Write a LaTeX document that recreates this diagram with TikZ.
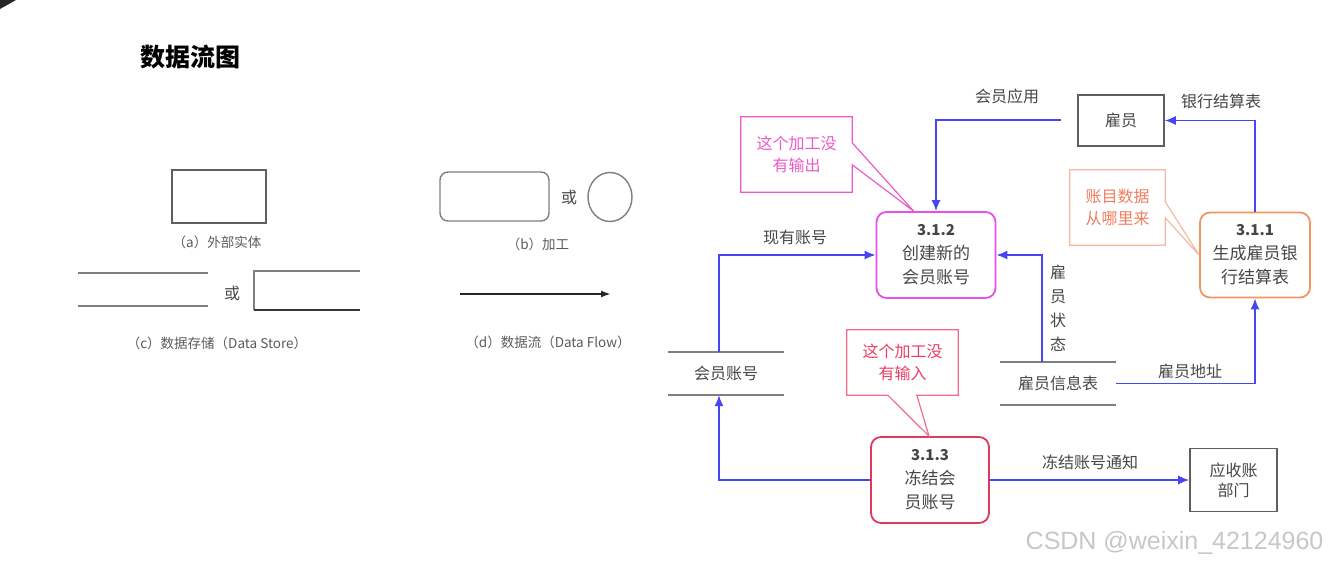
\documentclass[tikz,border=0pt]{standalone}
\usepackage{fontspec}
\setmainfont{Noto Sans CJK SC}
\newfontfamily\wmfont{Liberation Sans}
\usetikzlibrary{arrows,arrows.meta,positioning,calc,shapes.geometric}

\definecolor{flowblue}{RGB}{70,70,245}
\definecolor{boxgray}{RGB}{95,95,95}
\definecolor{textgray}{RGB}{70,70,70}
\definecolor{capgray}{RGB}{90,90,90}
\definecolor{pmagenta}{RGB}{230,80,230}
\definecolor{nmagenta}{RGB}{235,90,200}
\definecolor{pred}{RGB}{220,60,90}
\definecolor{nred}{RGB}{240,110,135}
\definecolor{tred}{RGB}{235,60,100}
\definecolor{porange}{RGB}{240,150,95}
\definecolor{norange}{RGB}{245,185,165}
\definecolor{torange}{RGB}{240,125,95}
\newcommand{\procnum}[1]{{\fontsize{15}{24}\selectfont\bfseries #1}}

\begin{document}
\begin{tikzpicture}[
      x=1pt,y=-1pt,
      >={Latex[length=11pt,width=9pt]},
      entity/.style={draw=boxgray,line width=1.6,minimum width=86,minimum height=51,inner sep=0,
        text=textgray,font=\fontsize{16}{20}\selectfont,align=center},
      proc/.style={draw,line width=1.8,rounded corners=10,minimum width=118,minimum height=86,inner sep=0,
        text=textgray,font=\fontsize{17}{24}\selectfont,align=center},
      store/.style={minimum width=116,minimum height=43,inner sep=0,
        text=textgray,font=\fontsize{16}{20}\selectfont},
      storeline/.style={draw=boxgray!80,line width=1.8},
      flow/.style={draw=flowblue,line width=1.4,->},
      lbl/.style={text=textgray,font=\fontsize{16}{20}\selectfont,inner sep=0,align=center},
      captxt/.style={text=capgray,font=\fontsize{13.5}{16}\selectfont,inner sep=0},
      note/.style={minimum width=111,minimum height=75,inner sep=0,align=center,
        font=\fontsize{16}{22}\selectfont}
    ]
    \useasboundingbox (0,0) rectangle (1330,565);
    \fill[black!85] (0,0) -- (16,0) -- (0,9) -- cycle;

    % legend
    \node[font=\fontsize{25}{28}\selectfont\bfseries] (title) at (190,57) {数据流图};
    \begin{scope}[every node/.style={captxt}]
      \node (capa) at (217,242) {（a）外部实体};
      \node (capb) at (538,244) {（b）加工};
      \node (capc) at (217,343) {（c）数据存储（Data Store）};
      \node (capd) at (548,342) {（d）数据流（Data Flow）};
    \end{scope}
    \node[entity,minimum width=94,minimum height=53] (lega) at (219,196.5) {};
    \node[draw=boxgray!80,line width=1.4,rounded corners=8,minimum width=109,minimum height=49] (legb) at (494.5,196.5) {};
    \node[draw=boxgray!80,line width=1.4,ellipse,minimum width=44,minimum height=49,inner sep=0] (legb2) at (610,197) {};
    \node[lbl] (orb) at (569,197) {或};
    \node[minimum width=130,minimum height=33,inner sep=0] (legc1) at (143,289.5) {};
    \node[minimum width=106,minimum height=39,inner sep=0] (legc2) at (307,290.5) {};
    \node[lbl] (orc) at (232,293) {或};
    \draw[storeline] (legc1.north west) -- (legc1.north east);
    \draw[storeline] (legc1.south west) -- (legc1.south east);
    \draw[storeline] (legc2.north east) -- (legc2.north west) -- (legc2.south west);
    \draw[line width=2.4,black!80] (legc2.south west) -- (legc2.south east);
    \coordinate (d1) at (460,294);
    \coordinate (d2) at (611,294);
    \draw[-{Latex[length=10pt,width=7pt]},line width=1.8,black!85] (d1) -- (d2);

    % diagram
    \node[entity] (yuangong) at (1121,120.5) {雇员};
    \node[entity,minimum width=87,minimum height=63,align=center] (yszb) at (1233.5,480) {应收账\\部门};
    \node[proc,draw=pmagenta,minimum width=119] (p312) at (936,255) {\procnum{3.1.2}\\创建新的\\会员账号};
    \node[proc,draw=porange,minimum width=110,minimum height=85] (p311) at (1255,255) {\procnum{3.1.1}\\生成雇员银\\行结算表};
    \node[proc,draw=pred] (p313) at (930,480) {\procnum{3.1.3}\\冻结会\\员账号};
    \node[store] (hyzh) at (726,373.5) {会员账号};
    \node[store] (ygxx) at (1058,383.5) {雇员信息表};
    \foreach \s in {hyzh,ygxx} {
      \draw[storeline] (\s.north west) -- (\s.north east);
      \draw[storeline] (\s.south west) -- (\s.south east);
    }

    \coordinate (hyyy) at (1061,120);
    \draw[flow] (hyyy) -| (p312.north);
    \draw[flow] ($(hyzh.north)+(-7,0)$) |- (p312.west);
    \draw[flow] (p313.west) -| ($(hyzh.south)+(-7,0)$);
    \draw[flow] ($(ygxx.north)+(-16,0)$) |- (p312.east);
    \draw[flow] (ygxx.east) -| (p311.south);
    \draw[flow] (p311.north) |- (yuangong.east);
    \path (p313) edge[flow] (yszb);

    \begin{scope}[every node/.style={lbl}]
      \node (l1) at (1007,96) {会员应用};
      \node (l2) at (1221,101) {银行结算表};
      \node (l3) at (795,237) {现有账号};
      \node[font=\fontsize{16}{24}\selectfont] (l4) at (1058,308) {雇\\员\\状\\态};
      \node (l5) at (1190,371) {雇员地址};
      \node (l6) at (1090,462) {冻结账号通知};
    \end{scope}

    % notes
    \node[note,text=nmagenta] (note1) at (796.5,154.5) {这个加工没\\有输出};
    \draw[nmagenta,line width=1.2] (note1.north west) -- (note1.north east)
      -- ($(note1.north east)+(0,26)$) -- ($(p312.north west)+(38,0)$)
      -- ($(note1.north east)+(0,48)$) -- (note1.south east) -- (note1.south west) -- cycle;
    \node[note,text=tred,minimum height=65] (note3) at (902.5,362.5) {这个加工没\\有输入};
    \draw[nred,line width=1.2] (note3.north west) -- (note3.north east) -- (note3.south east)
      -- ($(note3.south west)+(70,0)$) -- ($(p313.north)+(-1,0)$)
      -- ($(note3.south west)+(41,0)$) -- (note3.south west) -- cycle;
    \node[note,text=torange,minimum width=95] (note2) at (1117.5,207.5) {账目数据\\从哪里来};
    \draw[norange,line width=1.2] (note2.north west) -- (note2.north east)
      -- ($(note2.north east)+(0,32)$) -- (p311.west)
      -- ($(note2.north east)+(0,48)$) -- (note2.south east) -- (note2.south west) -- cycle;

    \node[text=black!22,font=\wmfont\fontsize{25}{28}\selectfont,anchor=east] (wm) at (1327,543) {CSDN @weixin\_42124960};
  \end{tikzpicture}
\end{document}
